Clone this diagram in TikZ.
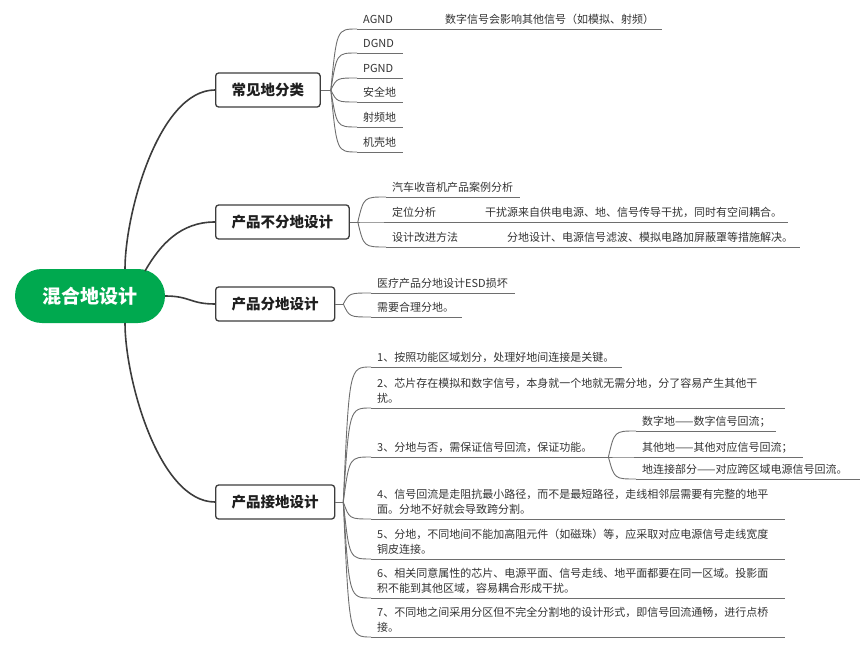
\documentclass[tikz,border=0pt]{standalone}
\usepackage{fontspec}
\setmainfont{Noto Sans CJK SC}
\usepackage{tikz}
\usetikzlibrary{calc}
\definecolor{mapgreen}{HTML}{00A94F}
\definecolor{mapline}{HTML}{3C3C3C}
\definecolor{mapgrey}{HTML}{6E6E6E}
\definecolor{maptext}{HTML}{333333}

\begin{document}
\begin{tikzpicture}[
x=1pt,y=-1pt,
every node/.style={text=maptext},
hub/.style={fill=mapgreen,text=white,font=\fontsize{19}{22}\selectfont\bfseries,
minimum width=150pt,minimum height=54pt,rounded corners=26.9pt,inner sep=0pt},
topic/.style={draw=mapline,line width=1.3pt,rounded corners=3pt,fill=white,
font=\fontsize{14.5}{17}\selectfont\bfseries,minimum height=34pt,inner xsep=16pt,
anchor=west,text=black!88},
leaf/.style={font=\fontsize{11}{15}\selectfont,text width=#1,align=left,
inner xsep=6pt,inner ysep=1pt,anchor=south west,execute at end node=\strut},
trunk/.style={draw=mapline,line width=1.6pt},
twig/.style={draw=mapgrey,line width=0.9pt},
uline/.style={draw=mapgrey,line width=0.9pt}
]
\useasboundingbox (0,0) rectangle (864,652);

\node[hub] (mixgnd) at (90,296) {混合地设计};
\node[topic] (kinds)   at (215,90)  {常见地分类};
\node[topic] (nosplit) at (215,222) {产品不分地设计};
\node[topic] (split)   at (215,304) {产品分地设计};
\node[topic] (ground)  at (215,502) {产品接地设计};

\coordinate (mixgnd-n)  at ($(mixgnd.center)+(35,-27)$);
\coordinate (mixgnd-ne) at ($(mixgnd.center)+(55,-25)$);
\coordinate (mixgnd-s)  at ($(mixgnd.center)+(35,27)$);
\coordinate (kinds-o)   at ($(kinds.east)+(10,0)$);
\coordinate (nosplit-o) at ($(nosplit.east)+(8,0)$);
\coordinate (split-o)   at ($(split.east)+(8,0)$);
\coordinate (ground-o)  at ($(ground.east)+(8,0)$);

\node[leaf=34pt] (agnd)    at (357,29)  {AGND};
\node[leaf=34pt] (dgnd)    at (357,53)  {DGND};
\node[leaf=34pt] (pgnd)    at (357,78)  {PGND};
\node[leaf=34pt] (safe)    at (357,102) {安全地};
\node[leaf=34pt] (rf)      at (357,127) {射频地};
\node[leaf=34pt] (chassis) at (357,152) {机壳地};
\node[leaf=211pt] (agnd-note) at (439,29) {数字信号会影响其他信号（如模拟、射频）};

\node[leaf=122pt] (car)     at (386,197) {汽车收音机产品案例分析};
\node[leaf=44pt]  (locate)  at (386,222) {定位分析};
\node[leaf=297pt] (locate-note) at (479,222) {干扰源来自供电电源、地、信号传导干扰，同时有空间耦合。};
\node[leaf=66pt]  (improve) at (386,247) {设计改进方法};
\node[leaf=287pt] (improve-note) at (501,247) {分地设计、电源信号滤波、模拟电路加屏蔽罩等措施解决。};

\node[leaf=132pt] (esd)        at (371,293) {医疗产品分地设计ESD损坏};
\node[leaf=79pt]  (reasonable) at (371,317) {需要合理分地。};

\node[leaf=239pt] (rule1) at (371,367) {1、按照功能区域划分，处理好地间连接是关键。};
\node[leaf=402pt] (rule2) at (371,408) {2、芯片存在模拟和数字信号，本身就一个地就无需分地，分了容易产生其他干\\扰。};
\node[leaf=225pt] (rule3) at (371,457) {3、分地与否，需保证信号回流，保证功能。};
\node[leaf=128pt] (digital) at (636,431) {\mbox{数字地——数字信号回流；}};
\node[leaf=155pt] (other)   at (636,457) {\mbox{其他地——其他对应信号回流；}};
\node[leaf=212pt] (bridge)  at (636,479) {\mbox{地连接部分——对应跨区域电源信号回流。}};
\node[leaf=402pt] (rule4) at (371,519) {4、信号回流是走阻抗最小路径，而不是最短路径，走线相邻层需要有完整的地平\\面。分地不好就会导致跨分割。};
\node[leaf=402pt] (rule5) at (371,559) {5、分地，不同地间不能加高阻元件（如磁珠）等，应采取对应电源信号走线宽度\\铜皮连接。};
\node[leaf=402pt] (rule6) at (371,598) {6、相关同意属性的芯片、电源平面、信号走线、地平面都要在同一区域。投影面\\积不能到其他区域，容易耦合形成干扰。};
\node[leaf=402pt] (rule7) at (371,637) {7、不同地之间采用分区但不完全分割地的设计形式，即信号回流通畅，进行点桥\\接。};

\draw[trunk] (mixgnd-n) .. controls +(0,-56) and +(-56,0) .. (kinds.west);
\draw[trunk] (mixgnd-ne) .. controls +(15,-26) and +(-35,0) .. (nosplit.west);
\draw[trunk] (mixgnd.east) .. controls +(25,0) and +(-25,0) .. (split.west);
\draw[trunk] (mixgnd-s) .. controls +(0,56) and +(-56,0) .. (ground.west);

\draw[twig] (kinds.east) -- (kinds-o);
\draw[twig] (nosplit.east) -- (nosplit-o);
\draw[twig] (split.east) -- (split-o);
\draw[twig] (ground.east) -- (ground-o);

\foreach \n in {agnd,dgnd,pgnd,safe,rf,chassis}
  \draw[twig] (kinds-o) .. controls ($(kinds-o |- \n.south west)+(6,0)$) .. (\n.south west);
\foreach \n in {car,locate,improve}
  \draw[twig] (nosplit-o) .. controls ($(nosplit-o |- \n.south west)+(6,0)$) .. (\n.south west);
\foreach \n in {esd,reasonable}
  \draw[twig] (split-o) .. controls ($(split-o |- \n.south west)+(6,0)$) .. (\n.south west);
\foreach \n in {rule1,rule2,rule3,rule4,rule5,rule6,rule7}
  \draw[twig] (ground-o) .. controls ($(ground-o |- \n.south west)+(6,0)$) .. (\n.south west);
\foreach \n in {digital,other,bridge}
  \draw[twig] (rule3.south east) .. controls ($(rule3.south east |- \n.south west)+(6,0)$) .. (\n.south west);

\draw[uline] (agnd.south east) -- (agnd-note.south west);
\draw[uline] (locate.south east) -- (locate-note.south west);
\draw[uline] (improve.south east) -- (improve-note.south west);

\foreach \n in {agnd,dgnd,pgnd,safe,rf,chassis,agnd-note,car,locate,locate-note,
improve,improve-note,esd,reasonable,rule1,rule2,rule3,digital,other,bridge,
rule4,rule5,rule6,rule7}
  \draw[uline] (\n.south west) -- (\n.south east);
\end{tikzpicture}
\end{document}
